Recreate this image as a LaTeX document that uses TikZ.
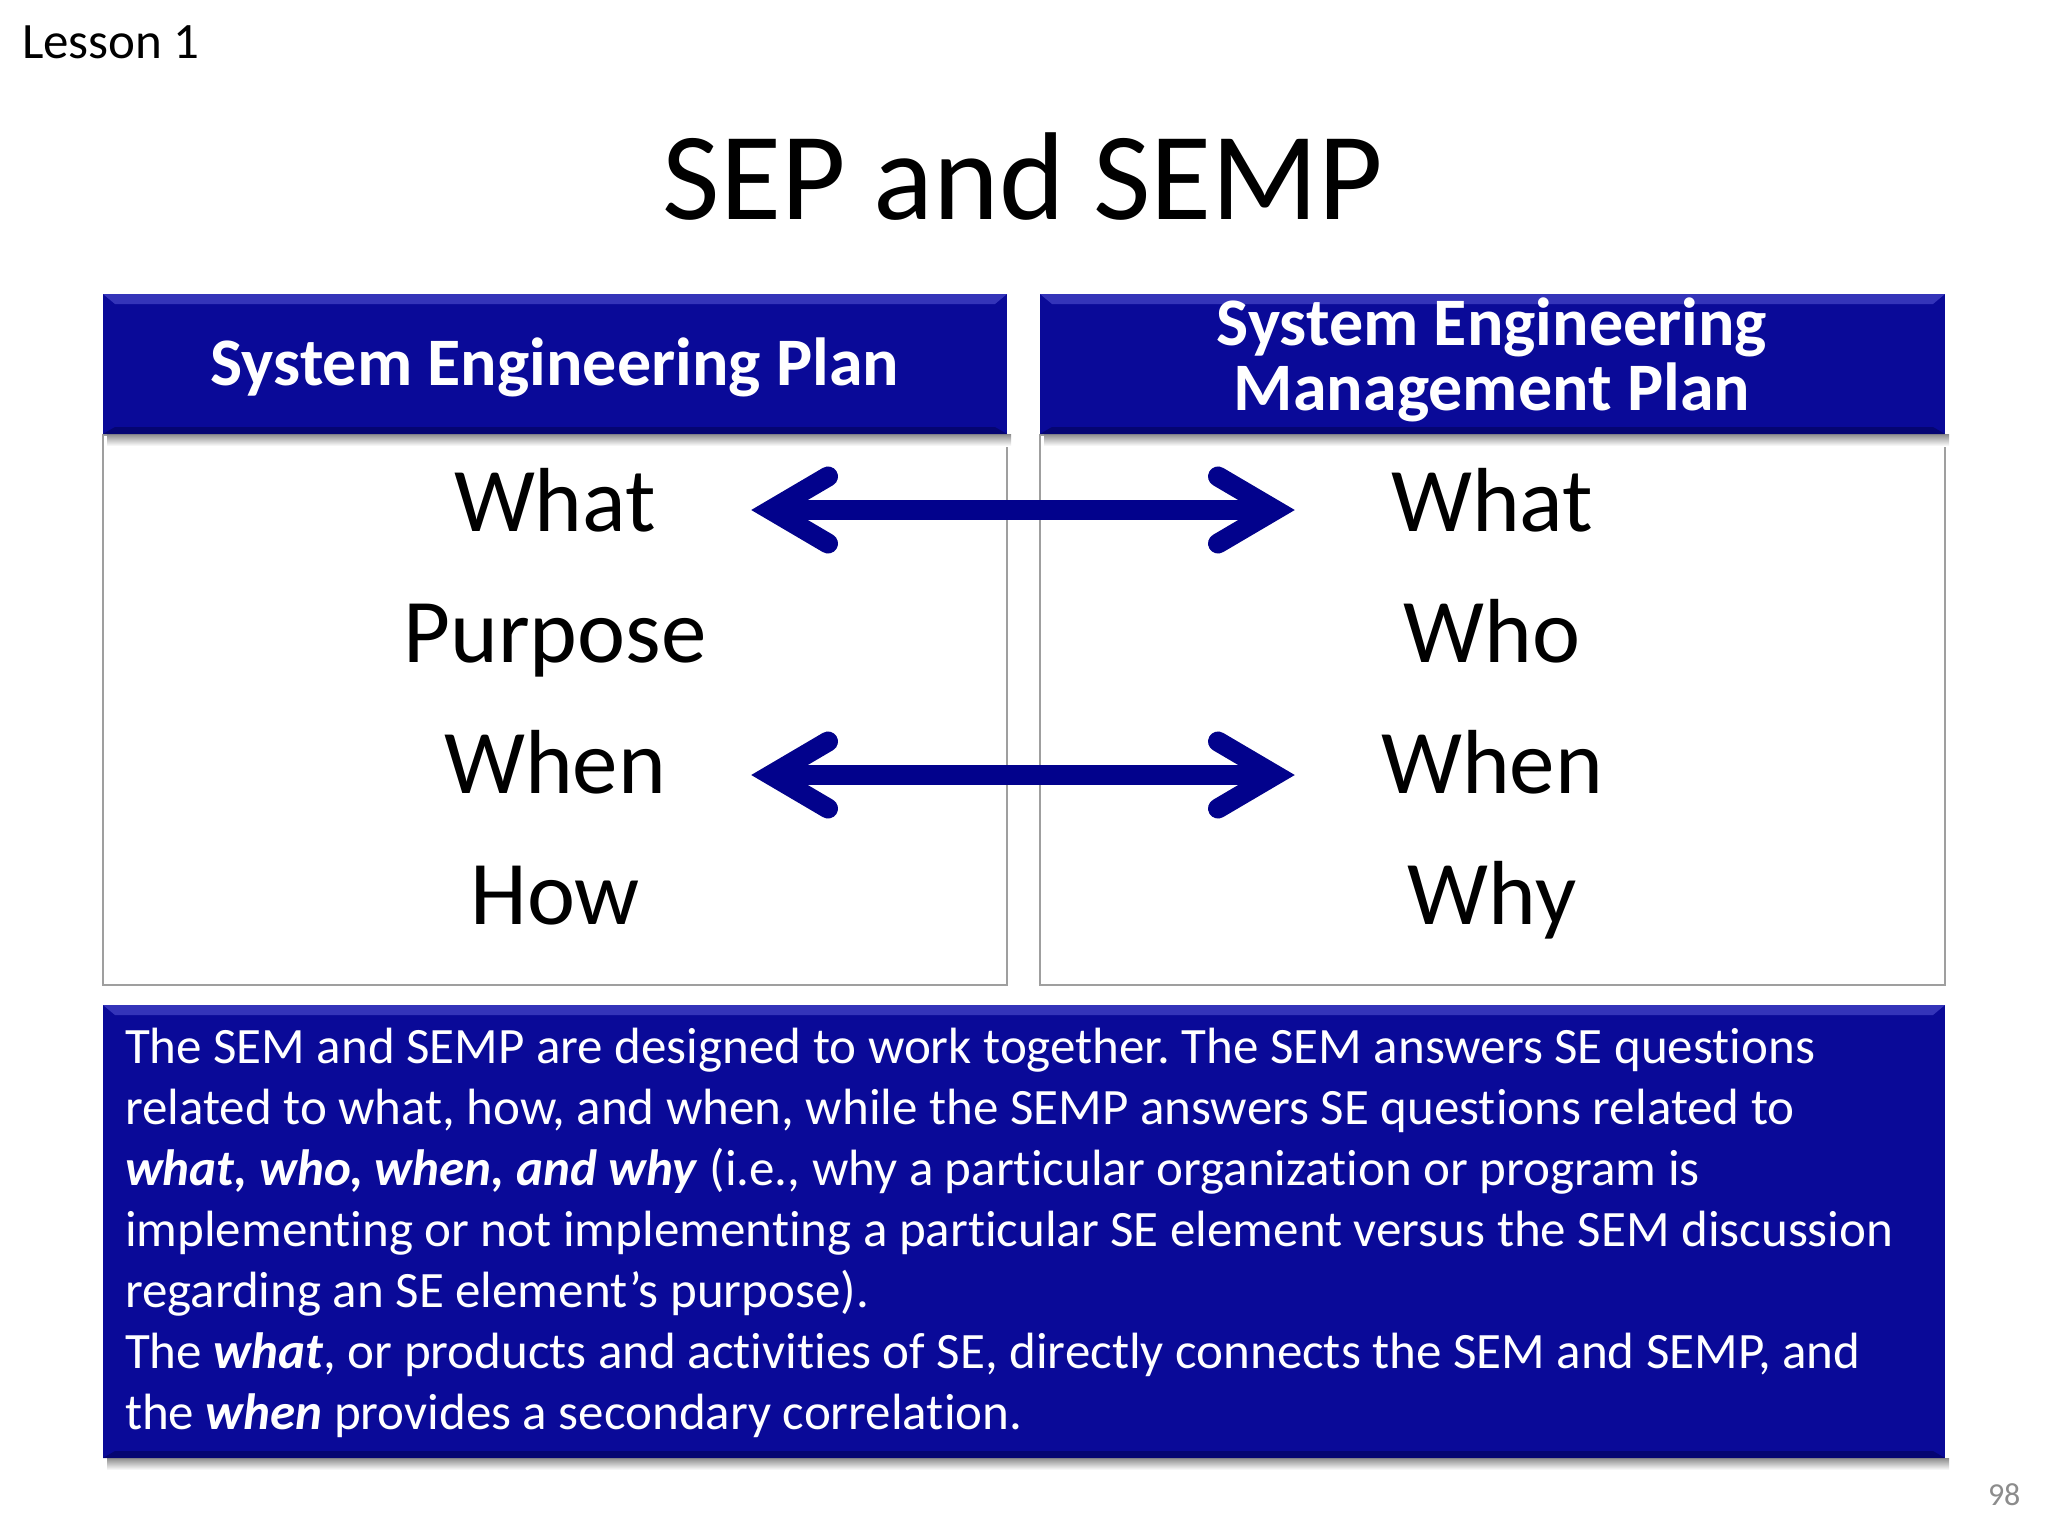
\documentclass[tikz,border=0pt]{standalone}
\usepackage{fontspec}
\setmainfont{Carlito}[Ligatures=NoCommon]
\usetikzlibrary{calc}
\frenchspacing
\definecolor{navy}{RGB}{10,10,152}
\definecolor{navyhi}{RGB}{70,70,200}
\definecolor{navylo}{RGB}{4,4,105}
\definecolor{arrowblue}{RGB}{2,2,140}
\definecolor{pagegray}{RGB}{140,140,140}
\newcommand\embi[1]{\textbf{\textit{#1}}}
\newcommand\bevelbox[4]{%
  \shade[top color=black!45, bottom color=white] (#1+4,#4) rectangle (#3+4,#4+12);
  \fill[navy] (#1,#2) rectangle (#3,#4);
  \fill[navyhi, opacity=0.7] (#1,#2) -- (#3,#2) -- (#3-12,#2+10) -- (#1+12,#2+10) -- cycle;
  \fill[navylo, opacity=0.8] (#1,#4) -- (#3,#4) -- (#3-12,#4-7) -- (#1+12,#4-7) -- cycle;
}
\begin{document}
\begin{tikzpicture}[x=1pt,y=-1pt,
  txt/.style={anchor=base, inner sep=0pt, outer sep=0pt},
  word/.style={txt, font=\fontsize{91}{100}\selectfont},
  htext/.style={txt, text=white, font=\fontsize{68}{70}\selectfont\bfseries},
  btext/.style={anchor=base west, inner sep=0pt, outer sep=0pt, text=white, font=\fontsize{51}{61}\selectfont},
  bodybox/.style={draw=gray!75, line width=1.5pt, fill=white},
  shaft/.style={draw=arrowblue, line width=19.5pt},
  chevron/.style={draw=arrowblue, line width=20pt, line cap=round, line join=miter, miter limit=10},
]
\useasboundingbox[fill=white] (0,0) rectangle (2048,1536);

% body boxes
\draw[bodybox] (103,435) rectangle (1007,985);
\draw[bodybox] (1040,435) rectangle (1945,985);

% header boxes and bottom box
\bevelbox{103}{294}{1007}{434}
\bevelbox{1040}{294}{1945}{434}
\bevelbox{103}{1005}{1945}{1458}

% texts
\node[txt, anchor=base west, font=\fontsize{51}{60}\selectfont] (lesson) at (22,59) {Lesson 1};
\node[txt, font=\fontsize{125}{130}\selectfont] (title) at (1023,219) {SEP and SEMP};
\node[htext] (sep) at (555,385) {System Engineering Plan};
\node[htext] (semp1) at (1492,345) {System Engineering};
\node[htext] (semp2) at (1492,410) {Management Plan};

\node[word] (lwhat) at (555,531) {What};
\node[word] (lpurpose) at (555,662) {Purpose};
\node[word] (lwhen) at (555,793) {When};
\node[word] (lhow) at (555,924) {How};
\node[word] (rwhat) at (1492,531) {What};
\node[word] (rwho) at (1492,662) {Who};
\node[word] (rwhen) at (1492,793) {When};
\node[word] (rwhy) at (1492,924) {Why};

% arrows
\coordinate (a1l) at (771,510);
\coordinate (a1r) at (1275,510);
\coordinate (a2l) at (771,775);
\coordinate (a2r) at (1275,775);
\foreach \l/\r in {a1l/a1r, a2l/a2r}{
  \begin{scope}[shift={(3,5)}, opacity=0.12]
    \draw[line width=19.5pt, draw=black] (\l) -- (\r);
    \draw[line width=20pt, line cap=round, draw=black] ($(\l)+(57,-33.5)$) -- (\l) -- ($(\l)+(57,33.5)$);
    \draw[line width=20pt, line cap=round, draw=black] ($(\r)+(-57,-33.5)$) -- (\r) -- ($(\r)+(-57,33.5)$);
  \end{scope}
  \draw[shaft] (\l) -- (\r);
  \draw[chevron] ($(\l)+(57,-33.5)$) -- (\l) -- ($(\l)+(57,33.5)$);
  \draw[chevron] ($(\r)+(-57,-33.5)$) -- (\r) -- ($(\r)+(-57,33.5)$);
}

% bottom text
\node[btext] (b1) at (125,1063) {The SEM and SEMP are designed to work together. The SEM answers SE questions};
\node[btext] (b2) at (125,1124) {related to what, how, and when, while the SEMP answers SE questions related to};
\node[btext] (b3) at (125,1185) {\embi{what, who, when, and why} (i.e., why a particular organization or program is};
\node[btext] (b4) at (125,1246) {implementing or not implementing a particular SE element versus the SEM discussion};
\node[btext] (b5) at (125,1307) {regarding an SE element’s purpose).};
\node[btext] (b6) at (125,1368) {The \embi{what}, or products and activities of SE, directly connects the SEM and SEMP, and};
\node[btext] (b7) at (125,1429) {the \embi{when} provides a secondary correlation.};

% page number
\node[txt, anchor=base west, text=pagegray, font=\fontsize{32}{36}\selectfont] (page) at (1988,1505) {98};
\end{tikzpicture}
\end{document}
